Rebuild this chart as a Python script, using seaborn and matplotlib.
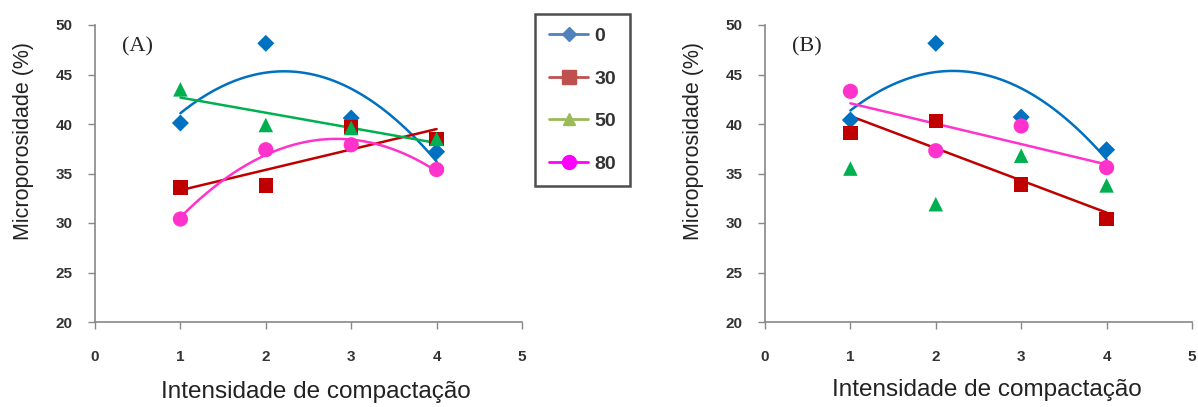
import pandas as pd
import matplotlib
matplotlib.use("Agg")
import matplotlib.pyplot as plt
import seaborn as sns
from matplotlib.lines import Line2D

# data
intensidade = [1, 2, 3, 4]
doses = ["0", "30", "50", "80"]

a_0 = [40.1, 48.15, 40.6, 37.2]
a_30 = [33.6, 33.8, 39.7, 38.5]
a_50 = [43.5, 39.9, 39.6, 38.5]
a_80 = [30.4, 37.4, 37.9, 35.4]

b_0 = [40.4, 48.15, 40.7, 37.4]
b_30 = [39.1, 40.3, 33.9, 30.4]
b_50 = [35.5, 31.9, 36.8, 33.8]
b_80 = [43.3, 37.3, 39.8, 35.6]

# polynomial order of the trend line per dose (None = no line)
trend_a = {"0": 2, "30": 1, "50": 1, "80": 2}
trend_b = {"0": 2, "30": 1, "50": None, "80": 1}

cores = {"0": "#0070C0", "30": "#C00000", "50": "#00B050", "80": "#FF33CC"}
cores_leg = {"0": "#4F81BD", "30": "#C0504D", "50": "#9BBB59", "80": "#FF00FF"}
marcas = {"0": "D", "30": "s", "50": "^", "80": "o"}
tamanhos = {"0": 75, "30": 110, "50": 110, "80": 120}
tam_leg = {"0": 7, "30": 10, "50": 9, "80": 10}


def montar(series):
    rows = []
    for d, vals in zip(doses, series):
        for x, y in zip(intensidade, vals):
            rows.append({"x": x, "y": y, "dose": d})
    return pd.DataFrame(rows)


df_a = montar([a_0, a_30, a_50, a_80])
df_b = montar([b_0, b_30, b_50, b_80])

sns.set_style("white")
plt.rcParams["font.family"] = ["Liberation Sans", "DejaVu Sans"]

fig = plt.figure(figsize=(11.98, 4.07), dpi=100)
ax_a = fig.add_axes([95 / 1198, 1 - 322 / 407, 427 / 1198, 297 / 407])
ax_b = fig.add_axes([765 / 1198, 1 - 322 / 407, 427 / 1198, 297 / 407])


def painel(ax, df, trend, letra, ylab_x, xlab_x, xlab_y):
    for d in doses:
        sub = df[df["dose"] == d]
        if trend[d]:
            sns.regplot(data=sub, x="x", y="y", order=trend[d], ci=None,
                        scatter=False, ax=ax,
                        line_kws={"color": cores[d], "lw": 1.8})
    for d in doses:
        sub = df[df["dose"] == d]
        sns.scatterplot(data=sub, x="x", y="y", marker=marcas[d],
                        s=tamanhos[d], color=cores[d], edgecolor="none",
                        ax=ax, zorder=3)
    ax.set_xlim(0, 5)
    ax.set_ylim(20, 50)
    ax.set_xticks(range(0, 6))
    ax.set_yticks(range(20, 51, 5))
    for s in ["top", "right"]:
        ax.spines[s].set_visible(False)
    for s in ["left", "bottom"]:
        ax.spines[s].set_color("#888888")
        ax.spines[s].set_linewidth(1.2)
    ax.tick_params(axis="both", which="major", direction="out", length=5,
                   width=1, color="#888888", labelsize=11,
                   left=True, bottom=True)
    ax.tick_params(axis="x", pad=15)
    ax.tick_params(axis="y", pad=11)
    for lb in ax.get_xticklabels() + ax.get_yticklabels():
        lb.set_fontweight("bold")
        lb.set_color("#333333")
    ax.set_xlabel("")
    ax.set_ylabel("")
    ax.text(0.064, 0.926, letra, transform=ax.transAxes, fontsize=16,
            family=["Liberation Serif", "DejaVu Serif"], va="center", ha="left")
    fig.text(ylab_x / 1198, 1 - 141 / 407, "Microporosidade (%)", rotation=90,
             fontsize=15.5, ha="center", va="center", color="#222222")
    fig.text(xlab_x / 1198, 1 - xlab_y / 407, "Intensidade de compactação",
             fontsize=17.5, ha="center", va="center", color="#222222")


painel(ax_a, df_a, trend_a, "(A)", 24, 316, 392)
painel(ax_b, df_b, trend_b, "(B)", 694, 987, 390)

handles = [Line2D([0], [0], color=cores_leg[d], lw=2, marker=marcas[d],
                  markersize=tam_leg[d], markerfacecolor=cores_leg[d],
                  markeredgecolor=cores_leg[d]) for d in doses]
leg = fig.legend(handles, doses, loc="upper left",
                 bbox_to_anchor=(535 / 1198, 1 - 14 / 407),
                 frameon=True, fancybox=False, handlelength=2.05,
                 labelspacing=1.28, borderpad=0.7, handletextpad=0.3,
                 borderaxespad=0,
                 prop={"size": 14, "weight": "bold"})
leg.get_frame().set_edgecolor("#222222")
leg.get_frame().set_linewidth(1.8)
for t in leg.get_texts():
    t.set_color("#333333")

fig.savefig("out.png", dpi=100)
